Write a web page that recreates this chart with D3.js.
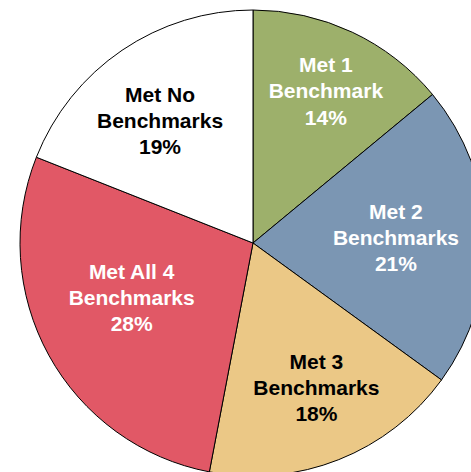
<!DOCTYPE html>
<html><head><meta charset="utf-8">
<script src="https://cdn.jsdelivr.net/npm/d3@7"></script>
<style>html,body{margin:0;padding:0;background:#fff;overflow:hidden}</style>
</head><body>
<svg id="c" width="471" height="472"></svg>
<script>
const categories = ["Met 1|Benchmark", "Met 2|Benchmarks", "Met 3|Benchmarks", "Met All 4|Benchmarks", "Met No|Benchmarks"];
const values = [14, 21, 18, 28, 19];
const colors = ["#9db06b", "#7b96b3", "#ebc886", "#e15866", "#ffffff"];
const labelColors = ["#ffffff", "#ffffff", "#000000", "#ffffff", "#000000"];
// label layout (radius as fraction of pie radius, angular nudge in degrees)
const labelRadiusFactor = [0.724, 0.614, 0.677, 0.571, 0.660];
const labelAngleNudge = [0.4, -0.4, -2.1, 4.6, -3.0];

const cx = 253, cy = 243, R = 233;
const svg = d3.select("#c");
const g = svg.append("g").attr("transform", `translate(${cx},${cy})`);
const pie = d3.pie().sort(null).value(d => d);
const arcs = pie(values);
const arc = d3.arc().innerRadius(0).outerRadius(R);

g.selectAll("path").data(arcs).join("path")
  .attr("d", arc)
  .attr("fill", (d, i) => colors[i])
  .attr("stroke", "#000")
  .attr("stroke-width", 1);

const fs = 21, lh = 26.3;
arcs.forEach((d, i) => {
  const a = (d.startAngle + d.endAngle) / 2 + labelAngleNudge[i] * Math.PI / 180;
  const r = R * labelRadiusFactor[i];
  const x = Math.sin(a) * r, y = -Math.cos(a) * r;
  const lines = categories[i].split("|").concat([values[i] + "%"]);
  const t = g.append("text")
    .attr("text-anchor", "middle")
    .attr("font-family", "Liberation Sans, Arial, sans-serif")
    .attr("font-weight", "bold")
    .attr("font-size", fs)
    .attr("fill", labelColors[i]);
  lines.forEach((ln, j) => {
    t.append("tspan").attr("x", x).attr("y", y + (j - 1) * lh + 7.5).text(ln);
  });
});
</script>
</body></html>
